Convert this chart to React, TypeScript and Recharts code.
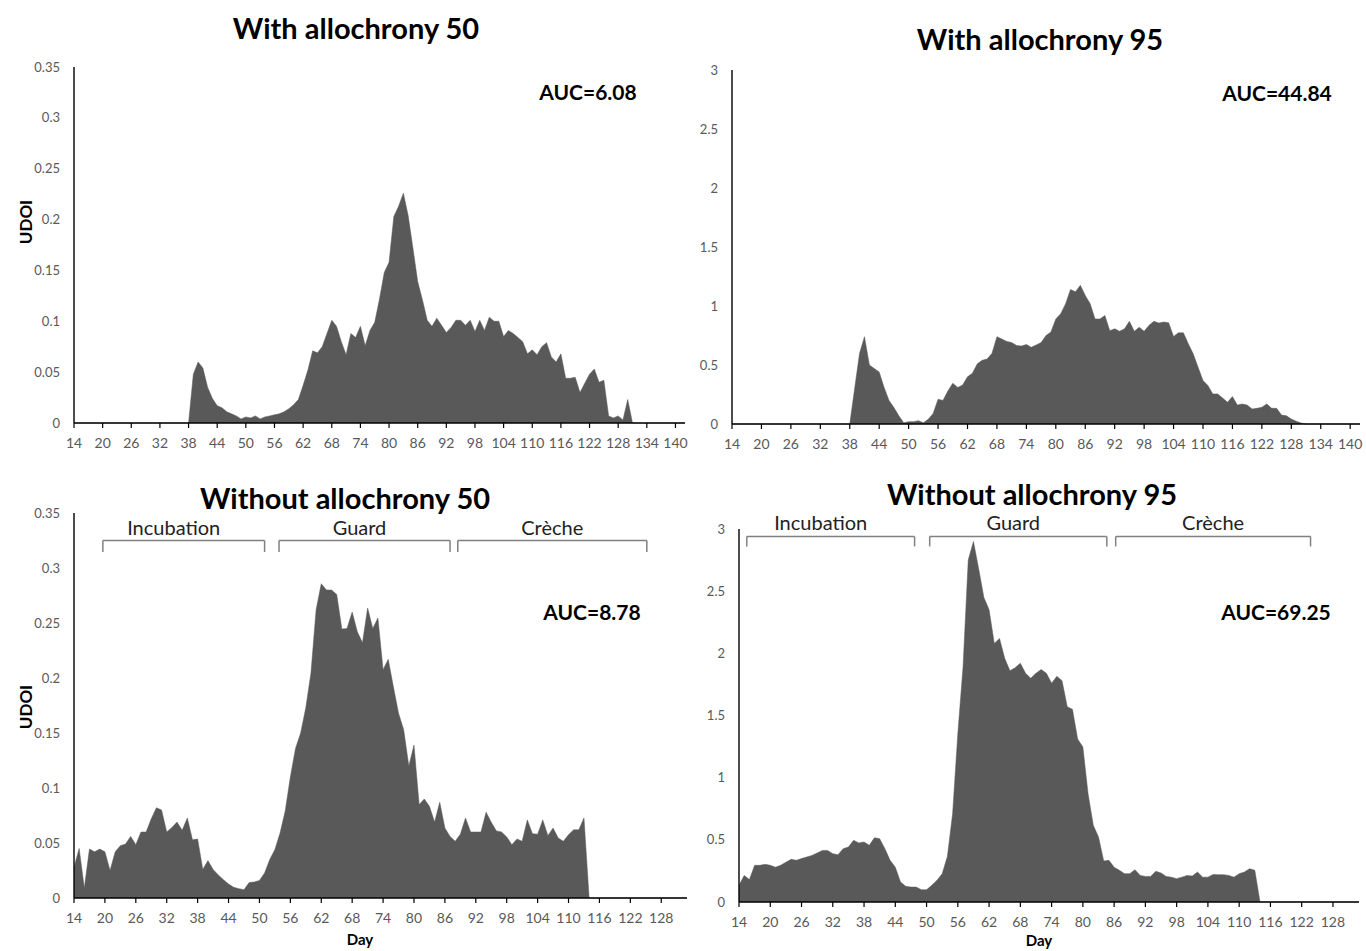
import React from "react";
import { AreaChart, Area, XAxis, YAxis, ReferenceLine } from "recharts";

const START_DAY = 14;

// UDOI per day, day 14 to 142
const with50 = [
  0, 0, 0, 0, 0, 0, 0, 0, 0, 0, 0, 0, 0, 0, 0, 0, 0, 0, 0, 0, 0, 0, 0, 0,
  0, 0.048, 0.06, 0.054, 0.035, 0.024, 0.017, 0.015, 0.011, 0.009,
  0.007, 0.004, 0.006, 0.005, 0.007, 0.004, 0.006, 0.007, 0.008, 0.009,
  0.011, 0.014, 0.018, 0.023, 0.037, 0.052, 0.071, 0.069, 0.075, 0.088,
  0.101, 0.095, 0.08, 0.067, 0.088, 0.084, 0.095, 0.076, 0.091, 0.099,
  0.122, 0.148, 0.158, 0.203, 0.213, 0.226, 0.204, 0.172, 0.139, 0.121,
  0.101, 0.095, 0.103, 0.096, 0.089, 0.094, 0.101, 0.101, 0.096, 0.101,
  0.09, 0.101, 0.091, 0.104, 0.1, 0.1, 0.085, 0.091, 0.088, 0.084,
  0.08, 0.068, 0.072, 0.067, 0.075, 0.079, 0.065, 0.06, 0.068, 0.044,
  0.044, 0.045, 0.03, 0.039, 0.048, 0.053, 0.04, 0.042, 0.007, 0.005,
  0.007, 0.003, 0.023, 0,
  0, 0, 0, 0, 0, 0, 0, 0, 0, 0, 0,
];

const with95 = [
  0, 0, 0, 0, 0, 0, 0, 0, 0, 0, 0, 0, 0, 0, 0, 0, 0, 0, 0, 0, 0, 0, 0, 0,
  0, 0.3, 0.6, 0.74, 0.5, 0.47, 0.44, 0.31, 0.2, 0.14,
  0.07, 0.01, 0.02, 0.02, 0.028, 0.01, 0.04, 0.09, 0.21, 0.2,
  0.28, 0.345, 0.31, 0.33, 0.4, 0.43, 0.51, 0.54, 0.55, 0.6,
  0.74, 0.72, 0.7, 0.69, 0.665, 0.66, 0.674, 0.65, 0.67, 0.69,
  0.75, 0.78, 0.89, 0.935, 1.02, 1.14, 1.12, 1.175, 1.09, 1.02,
  0.89, 0.89, 0.92, 0.79, 0.807, 0.785, 0.807, 0.87, 0.785, 0.82,
  0.785, 0.836, 0.87, 0.855, 0.864, 0.858, 0.742, 0.773, 0.773, 0.68,
  0.595, 0.48, 0.368, 0.326, 0.255, 0.255, 0.22, 0.184, 0.232, 0.16,
  0.17, 0.16, 0.127, 0.133, 0.142, 0.17, 0.133, 0.133, 0.076, 0.07,
  0.042, 0.023, 0.008, 0,
  0, 0, 0, 0, 0, 0, 0, 0, 0, 0, 0,
];

// UDOI per day, day 14 to 133
const without50 = [
  0.028, 0.045, 0.009, 0.0445, 0.042, 0.0445, 0.042, 0.025, 0.042, 0.0476,
  0.049, 0.056, 0.0485, 0.06, 0.06, 0.072, 0.082, 0.08, 0.06, 0.064,
  0.069, 0.0615, 0.0727, 0.053, 0.0536, 0.026, 0.034, 0.026, 0.021, 0.0167,
  0.0127, 0.0097, 0.0085, 0.0076, 0.014, 0.0145, 0.016, 0.0227, 0.035, 0.044,
  0.059, 0.079, 0.11, 0.136, 0.15, 0.173, 0.2045, 0.262, 0.2857, 0.28,
  0.28, 0.276, 0.2445, 0.245, 0.26, 0.242, 0.232, 0.2636, 0.245, 0.2545,
  0.2076, 0.217, 0.192, 0.168, 0.153, 0.12, 0.139, 0.085, 0.09, 0.0833,
  0.069, 0.087, 0.0636, 0.056, 0.0515, 0.058, 0.0727, 0.06, 0.06, 0.06,
  0.078, 0.0688, 0.061, 0.06, 0.0555, 0.0485, 0.0536, 0.0515, 0.071, 0.0585,
  0.058, 0.071, 0.0567, 0.0636, 0.0545, 0.0515, 0.0576, 0.062, 0.062, 0.0727,
  0,
  0, 0, 0, 0, 0, 0, 0, 0, 0, 0, 0, 0, 0, 0, 0, 0, 0, 0, 0,
];

const without95 = [
  0.134, 0.214, 0.18, 0.295, 0.295, 0.303, 0.295, 0.28, 0.295, 0.32,
  0.343, 0.335, 0.349, 0.362, 0.375, 0.394, 0.415, 0.415, 0.389, 0.38,
  0.429, 0.442, 0.496, 0.475, 0.483, 0.456, 0.517, 0.509, 0.429, 0.335,
  0.28, 0.16, 0.126, 0.12, 0.12, 0.099, 0.099, 0.134, 0.174, 0.228,
  0.367, 0.71, 1.354, 1.89, 2.75, 2.9, 2.68, 2.45, 2.35, 2.08,
  2.12, 1.96, 1.86, 1.885, 1.92, 1.84, 1.8, 1.84, 1.87, 1.84,
  1.76, 1.815, 1.78, 1.57, 1.55, 1.31, 1.247, 0.87, 0.617, 0.523,
  0.33, 0.335, 0.28, 0.255, 0.228, 0.228, 0.26, 0.214, 0.206, 0.206,
  0.247, 0.233, 0.206, 0.2, 0.188, 0.2, 0.214, 0.209, 0.241, 0.2,
  0.2, 0.222, 0.22, 0.22, 0.214, 0.2, 0.228, 0.241, 0.268, 0.255,
  0,
  0, 0, 0, 0, 0, 0, 0, 0, 0, 0, 0, 0, 0, 0, 0, 0, 0, 0, 0,
];

const topDayTicks = [14, 20, 26, 32, 38, 44, 50, 56, 62, 68, 74, 80, 86, 92, 98, 104, 110, 116, 122, 128, 134, 140];
const bottomDayTicks = [14, 20, 26, 32, 38, 44, 50, 56, 62, 68, 74, 80, 86, 92, 98, 104, 110, 116, 122, 128];
const ticks50 = [0, 0.05, 0.1, 0.15, 0.2, 0.25, 0.3, 0.35];
const ticks95 = [0, 0.5, 1, 1.5, 2, 2.5, 3];

const phaseNames = ["Incubation", "Guard", "Crèche"];
const phases50 = [[19.6, 51], [53.8, 87], [88.5, 125.2]];
const phases95 = [[15.5, 47.7], [50.6, 84.6], [86.3, 123.7]];

const FONT = "Lato, 'Open Sans', sans-serif";
const FILL = "#595959";
const Y_W = 60;
const M_TOP = 30;
const X_H = 30;

type Brackets = { spans: number[][]; y: number; drop: number; labelDx: number[] };

function Panel({
  values, left, top, plotW, plotH, xMax, xTicks, yMax, yTicks, brackets,
}: {
  values: number[]; left: number; top: number; plotW: number; plotH: number;
  xMax: number; xTicks: number[]; yMax: number; yTicks: number[]; brackets?: Brackets;
}) {
  const rows = values.map((v, i) => ({ day: START_DAY + i, udoi: v }));
  return (
    <div style={{ position: "absolute", left: left - Y_W, top: top - M_TOP }}>
      <AreaChart
        width={Y_W + plotW + 6}
        height={M_TOP + plotH + X_H}
        data={rows}
        margin={{ top: M_TOP, right: 6, left: 0, bottom: 0 }}
      >
        <XAxis
          dataKey="day"
          type="number"
          domain={[START_DAY, xMax]}
          ticks={xTicks}
          interval={0}
          height={X_H}
          tickSize={5}
          tickMargin={10}
          tick={{ fill: FILL, fontSize: 14, fontFamily: FONT }}
          axisLine={{ stroke: "#000", strokeWidth: 1.4 }}
          tickLine={{ stroke: "#000", strokeWidth: 1.2 }}
        />
        <YAxis
          type="number"
          domain={[0, yMax]}
          ticks={yTicks}
          interval={0}
          width={Y_W}
          tickLine={false}
          tickSize={6}
          tickMargin={8}
          tick={{ fill: FILL, fontSize: 13, fontFamily: FONT }}
          axisLine={{ stroke: "#000", strokeWidth: 1.4 }}
        />
        <Area
          type="linear"
          dataKey="udoi"
          stroke="#595959"
          strokeWidth={0.5}
          fill="#595959"
          fillOpacity={1}
          isAnimationActive={false}
          dot={false}
          activeDot={false}
        />
        {brackets
          ? brackets.spans.map(([a, b], i) => (
              <React.Fragment key={i}>
                <ReferenceLine
                  segment={[{ x: a, y: brackets.y }, { x: b, y: brackets.y }]}
                  stroke="#808080"
                  strokeWidth={1.5}
                  ifOverflow="visible"
                  label={{ value: phaseNames[i], position: "top", offset: 6, dx: brackets.labelDx[i], fill: "#222", fontSize: 20, fontFamily: FONT }}
                />
                <ReferenceLine
                  segment={[{ x: a, y: brackets.y }, { x: a, y: brackets.y - brackets.drop }]}
                  stroke="#808080"
                  strokeWidth={1.5}
                  ifOverflow="visible"
                />
                <ReferenceLine
                  segment={[{ x: b, y: brackets.y }, { x: b, y: brackets.y - brackets.drop }]}
                  stroke="#808080"
                  strokeWidth={1.5}
                  ifOverflow="visible"
                />
              </React.Fragment>
            ))
          : null}
      </AreaChart>
    </div>
  );
}

function Txt({ x, y, size, bold, rotate, children }: { x: number; y: number; size: number; bold?: boolean; rotate?: boolean; children: React.ReactNode }) {
  return (
    <div
      style={{
        position: "absolute",
        left: x,
        top: y,
        transform: `translate(-50%, -50%)${rotate ? " rotate(-90deg)" : ""}`,
        fontFamily: FONT,
        fontSize: size,
        fontWeight: bold ? 700 : 400,
        lineHeight: 1,
        whiteSpace: "nowrap",
        color: "#000",
      }}
    >
      {children}
    </div>
  );
}

export default function App() {
  return (
    <div style={{ position: "absolute", left: 0, top: 0, width: 1366, height: 951, background: "#fff", overflow: "hidden" }}>
      <Panel values={with50} left={74} top={67} plotW={611} plotH={356} xMax={142} xTicks={topDayTicks} yMax={0.35} yTicks={ticks50} />
      <Panel values={with95} left={732} top={70} plotW={628} plotH={354} xMax={142} xTicks={topDayTicks} yMax={3} yTicks={ticks95} />
      <Panel
        values={without50} left={74} top={513} plotW={613} plotH={385} xMax={133} xTicks={bottomDayTicks} yMax={0.35} yTicks={ticks50}
        brackets={{ spans: phases50, y: 0.325, drop: 0.0105, labelDx: [-10, -5, 0] }}
      />
      <Panel
        values={without95} left={739} top={529} plotW={620} plotH={373} xMax={133} xTicks={bottomDayTicks} yMax={3} yTicks={ticks95}
        brackets={{ spans: phases95, y: 2.94, drop: 0.08, labelDx: [-10, -5, 0] }}
      />

      <Txt x={356} y={27} size={29} bold>With allochrony 50</Txt>
      <Txt x={1040} y={38} size={29} bold>With allochrony 95</Txt>
      <Txt x={345} y={497} size={29} bold>Without allochrony 50</Txt>
      <Txt x={1032} y={493} size={29} bold>Without allochrony 95</Txt>

      <Txt x={588} y={91} size={21} bold>AUC=6.08</Txt>
      <Txt x={1277} y={92} size={21} bold>AUC=44.84</Txt>
      <Txt x={592} y={611} size={21} bold>AUC=8.78</Txt>
      <Txt x={1276} y={611} size={21} bold>AUC=69.25</Txt>

      <Txt x={25} y={222} size={17} bold rotate>UDOI</Txt>
      <Txt x={25} y={707} size={17} bold rotate>UDOI</Txt>
      <Txt x={360} y={939} size={15} bold>Day</Txt>
      <Txt x={1039} y={940} size={15} bold>Day</Txt>
    </div>
  );
}
